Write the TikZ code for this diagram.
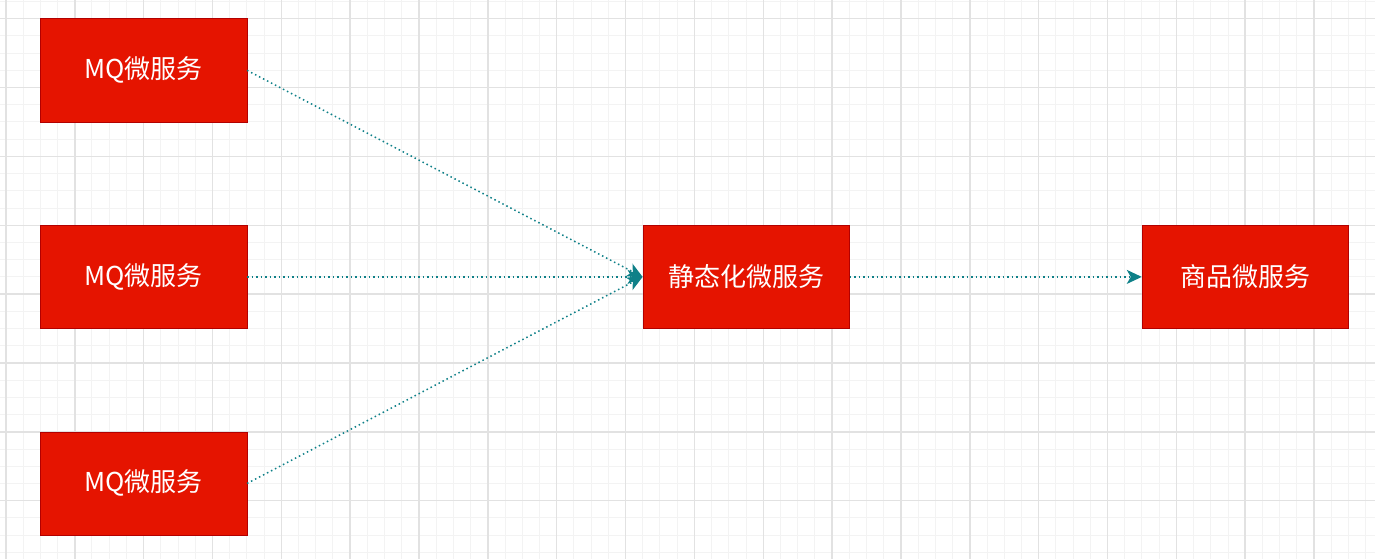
\documentclass[tikz,border=0pt]{standalone}
\usepackage{fontspec}
\setmainfont{Noto Sans CJK SC}
\usetikzlibrary{arrows.meta}
\definecolor{svcred}{HTML}{E51400}
\definecolor{svcborder}{HTML}{B20000}
\definecolor{flowteal}{HTML}{0E8088}
\definecolor{minorgrid}{HTML}{F3F3F3}
\definecolor{majorgrid}{HTML}{E2E2E2}
\tikzset{service/.style={draw=svcborder,fill=svcred,text=white,minimum width=206.5pt,minimum height=103.3pt,inner sep=0pt,font=\fontsize{26}{31}\selectfont},
         flow/.style={draw=flowteal,line width=1.5pt,dash pattern=on 1.5pt off 3pt,-{Stealth[length=15pt,width=14pt,inset=4pt,fill=flowteal]}},
         minorline/.style={draw=minorgrid,line width=1pt},
         majorline/.style={draw=majorgrid,line width=1.5pt}}

\begin{document}
\begin{tikzpicture}[x=68.85pt,y=-68.85pt]
        \useasboundingbox[fill=white](-0.0857,-0.2716)rectangle(19.885,7.847);
        \foreach \i in {0,...,79}{\draw[minorline](\i*0.25,-0.2716)--(\i*0.25,7.847);}
        \foreach \j in {-1,...,31}{\draw[minorline](-0.0857,\j*0.25)--(19.885,\j*0.25);}
        \foreach \i in {0,...,19}{\draw[majorline](\i,-0.2716)--(\i,7.847);}
        \foreach \j in {0,...,7}{\draw[majorline](-0.0857,\j)--(19.885,\j);}

        \node[service](mqa)at(2,0.75){MQ微服务};
        \node[service](mqb)at(2,3.75){MQ微服务};
        \node[service](mqc)at(2,6.75){MQ微服务};
        \node[service](static)at(10.75,3.75){静态化微服务};
        \node[service](goods)at(18,3.75){商品微服务};

        \draw[flow](mqa.east)to(static.west);
        \draw[flow](mqb.east)to(static.west);
        \draw[flow](mqc.east)to(static.west);
        \draw[flow](static.east)to(goods.west);
    \end{tikzpicture}
\end{document}
